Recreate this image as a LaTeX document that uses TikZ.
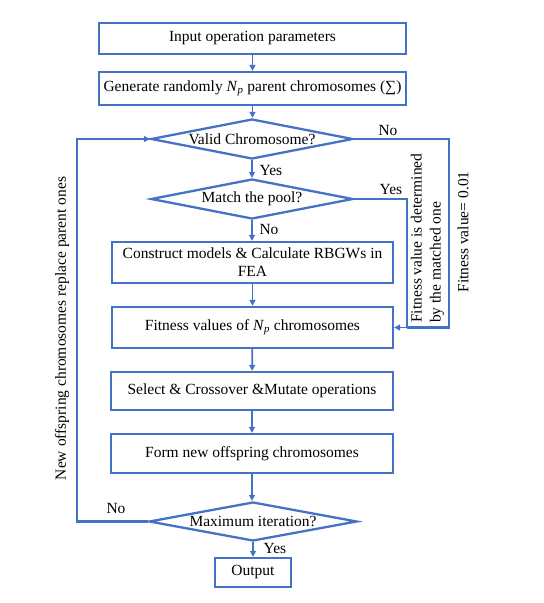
\documentclass[tikz,border=0pt]{standalone}
\usepackage{fontspec}
\setmainfont{Liberation Serif}
\usetikzlibrary{shapes.geometric,arrows.meta}
\definecolor{lineblue}{RGB}{68,114,196}
\begin{document}
\begin{tikzpicture}[x=1pt,y=-1pt,
  every node/.style={font=\fontsize{15.5}{19}\selectfont},
  procbox/.style={draw=lineblue,line width=2.3pt,rectangle,inner sep=0pt,align=center},
  decbox/.style={draw=lineblue,line width=2.3pt,diamond,inner sep=0pt},
  flow/.style={draw=lineblue,line width=1.8pt,-{Triangle[length=6pt,width=6pt]}},
  loop/.style={draw=lineblue,line width=2.2pt},
  lbl/.style={inner sep=0pt}]
\useasboundingbox (0,0) rectangle (544,603);

\node[procbox,minimum width=307,minimum height=31] (b1) at (252.5,38.5) {Input operation parameters};
\node[procbox,minimum width=307,minimum height=33] (b2) at (252.5,88.5) {Generate randomly \textit{N}\textsubscript{\textit{p}} parent chromosomes (∑)};
\node[decbox,minimum width=202,minimum height=40] (d1) at (252,139) {\makebox[0pt]{Valid Chromosome?}};
\node[decbox,minimum width=202,minimum height=40] (d2) at (252,199) {\makebox[0pt]{Match the pool?}};
\node[procbox,minimum width=281,minimum height=41] (b3) at (252.5,262.5) {Construct models \& Calculate RBGWs in\\[-1pt]FEA};
\node[procbox,minimum width=281,minimum height=41] (b4) at (252.5,327.5) {Fitness values of \textit{N}\textsubscript{\textit{p}} chromosomes};
\node[procbox,minimum width=282,minimum height=38] (b5) at (252,391) {Select \& Crossover \&Mutate operations};
\node[procbox,minimum width=282,minimum height=39] (b6) at (252,453.5) {Form new offspring chromosomes};
\node[decbox,minimum width=208,minimum height=39] (d3) at (253,521.5) {\makebox[0pt]{Maximum iteration?}};
\node[procbox,minimum width=76,minimum height=29] (out) at (253,572.5) {Output};

\draw[flow] (b1) -- (b2);
\draw[flow] (b2) -- (b2 |- d1.north);
\draw[flow] (d1.south) -- (d2.north);
\draw[flow] (d2.south) -- (d2.south |- b3.north);
\draw[flow] (b3) -- (b4);
\draw[flow] (b4) -- (b5);
\draw[flow] (b5) -- (b6);
\draw[flow] (b6.south) -- (b6.south |- d3.north);
\draw[flow] (d3.south) -- (d3.south |- out.north);

\coordinate (lb) at (77,521.5);
\coordinate (lt) at (77,139);
\draw[loop] (d3.west) -- (lb) -- (lt) -- (145,139);
\draw[flow] (lt) -- (d1.west);

\coordinate (r1) at (449,139);
\coordinate (r2) at (449,327.5);
\coordinate (m1) at (407,199);
\coordinate (m2) at (407,327.5);
\draw[loop] (d1.east) -- (r1) -- (r2) -- (m2);
\draw[loop] (d2.east) -- (m1) -- (m2);
\draw[flow] (m2) -- (b4.east);

\node[lbl] (tyes1) at (271,170) {Yes};
\node[lbl] (tno1) at (269,229) {No};
\node[lbl] (tyes3) at (275,548) {Yes};
\node[lbl] (tno3) at (116,508) {No};
\node[lbl] (tno2) at (388,130) {No};
\node[lbl] (tyes2) at (391,189) {Yes};

\node[lbl,rotate=90,align=left,anchor=west] (tfit) at (427.5,323) {Fitness value is determined\\by the matched one};
\node[lbl,rotate=90] (tfit2) at (463,232) {Fitness value= 0.01};
\node[lbl,rotate=90] (tnew) at (62,328.5) {New offspring chromosomes replace parent ones};
\end{tikzpicture}
\end{document}
